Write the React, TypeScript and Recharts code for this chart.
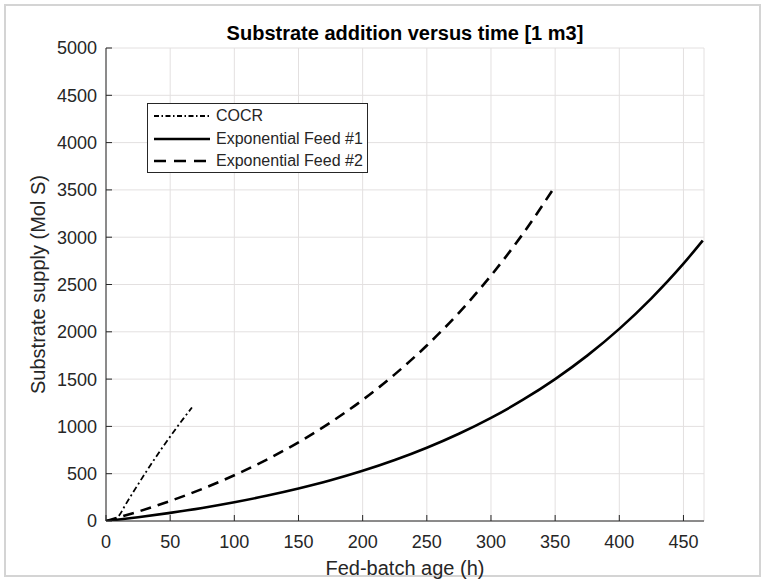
import React from 'react';
import { LineChart, Line, XAxis, YAxis, CartesianGrid, Legend } from 'recharts';

const chartTitle = 'Substrate addition versus time [1 m3]';
const xLabel = 'Fed-batch age (h)';
const yLabel = 'Substrate supply (Mol S)';

const seriesNames = ['COCR', 'Exponential Feed #1', 'Exponential Feed #2'];

const cocrHours = [0, 5, 9, 10, 15, 20, 25, 30, 35, 40, 45, 50, 55, 60, 67];
const cocrSupply = [0, 18, 40, 54, 168, 279, 387, 493, 597, 698, 797, 892, 986, 1077, 1200];

const feed1Hours = [0, 25, 50, 75, 100, 125, 150, 175, 200, 225, 250, 275, 300, 325, 350, 375, 400, 425, 450, 465];
const feed1Supply = [0, 40, 86, 138, 198, 266, 343, 430, 530, 644, 774, 922, 1090, 1282, 1500, 1748, 2031, 2354, 2720, 2965];

const feed2Hours = [0, 25, 50, 75, 100, 125, 150, 175, 200, 225, 250, 275, 300, 325, 350];
const feed2Supply = [0, 99, 212, 339, 483, 647, 832, 1042, 1280, 1550, 1855, 2201, 2594, 3038, 3540];

const xTicks = [0, 50, 100, 150, 200, 250, 300, 350, 400, 450];
const yTicks = [0, 500, 1000, 1500, 2000, 2500, 3000, 3500, 4000, 4500, 5000];
const xMax = 466;
const yMax = 5000;

const cocrData = cocrHours.map((t, i) => ({ t, v: cocrSupply[i] }));
const feed1Data = feed1Hours.map((t, i) => ({ t, v: feed1Supply[i] }));
const feed2Data = feed2Hours.map((t, i) => ({ t, v: feed2Supply[i] }));

const FONT = '"Liberation Sans", Arial, Helvetica, sans-serif';
const INK = '#262626';

const dashes = ['6 3 2 3', undefined, '11 7'];
const legendDashes = ['5 2.5 1.5 2.5', undefined, '12 8'];
const widths = [1.8, 2.6, 2.6];

const YTick = (props: any) => {
  const { x, y, payload } = props;
  return (
    <g>
      <text x={x} y={y} dy={6.4} textAnchor="end" fontSize={18} fontFamily={FONT} fill={INK}>
        {payload.value}
      </text>
      <line x1={x + 9} x2={x + 15} y1={y} y2={y} stroke={INK} strokeWidth={1} />
    </g>
  );
};

const XTick = (props: any) => {
  const { x, y, payload } = props;
  return (
    <g>
      <text x={x} y={y} dy={14.5} textAnchor="middle" fontSize={18} fontFamily={FONT} fill={INK}>
        {payload.value}
      </text>
      <line x1={x} x2={x} y1={y - 12} y2={y - 18} stroke={INK} strokeWidth={1} />
    </g>
  );
};

const LegendBox = () => (
  <div
    style={{
      width: 219,
      height: 67,
      border: `1px solid ${INK}`,
      background: '#fff',
      fontFamily: FONT,
      fontSize: 16,
      color: INK,
      paddingTop: 1,
      boxSizing: 'content-box',
    }}
  >
    {seriesNames.map((name, i) => (
      <div key={name} style={{ display: 'flex', alignItems: 'center', height: 22.5 }}>
        <svg width={64} height={10} style={{ marginLeft: 4, marginRight: 0 }}>
          <line x1={2} x2={58} y1={5} y2={5} stroke="#000" strokeWidth={widths[i]} strokeDasharray={legendDashes[i]} />
        </svg>
        <span style={{ whiteSpace: 'nowrap', lineHeight: '16px' }}>{name}</span>
      </div>
    ))}
  </div>
);

export default function App() {
  return (
    <div style={{ position: 'absolute', left: 0, top: 0, width: 767, height: 583, background: '#fff' }}>
      <div
        style={{
          position: 'absolute',
          left: 4,
          top: 4,
          width: 757,
          height: 573,
          border: '2px solid #d4d4d4',
          boxSizing: 'border-box',
        }}
      />
      <div
        style={{
          position: 'absolute',
          left: 106,
          width: 598,
          top: 21,
          textAlign: 'center',
          fontFamily: FONT,
          fontWeight: 'bold',
          fontSize: 20,
          color: '#000',
          lineHeight: '24px',
          whiteSpace: 'nowrap',
        }}
      >
        {chartTitle}
      </div>
      <div style={{ position: 'absolute', left: 0, top: 0 }}>
        <LineChart
          width={767}
          height={583}
          margin={{ top: 48, right: 63, bottom: 22, left: 26 }}
        >
          <CartesianGrid stroke="#e3e0e0" strokeWidth={1} />
          <XAxis
            dataKey="t"
            type="number"
            domain={[0, xMax]}
            ticks={xTicks}
            allowDataOverflow
            height={40}
            tickSize={0}
            tickMargin={12}
            tickLine={false}
            tick={<XTick />}
            axisLine={{ stroke: INK, strokeWidth: 1 }}
            interval={0}
            label={{
              content: (p: any) => {
                const vb = p.viewBox;
                return (
                  <text x={vb.x + vb.width / 2} y={vb.y + 54} textAnchor="middle" fontSize={20} fontFamily={FONT} fill={INK}>
                    {xLabel}
                  </text>
                );
              },
            }}
          />
          <YAxis
            type="number"
            domain={[0, yMax]}
            ticks={yTicks}
            allowDataOverflow
            width={80}
            tickSize={0}
            tickMargin={9}
            tickLine={false}
            tick={<YTick />}
            axisLine={{ stroke: INK, strokeWidth: 1 }}
            interval={0}
            label={{
              content: (p: any) => {
                const vb = p.viewBox;
                const cx = vb.x + 19;
                const cy = vb.y + vb.height / 2;
                return (
                  <text x={cx} y={cy} transform={`rotate(-90 ${cx} ${cy})`} textAnchor="middle" fontSize={20} fontFamily={FONT} fill={INK}>
                    {yLabel}
                  </text>
                );
              },
            }}
          />
          <Line
            data={cocrData}
            dataKey="v"
            name={seriesNames[0]}
            type="monotone"
            stroke="#000"
            strokeWidth={widths[0]}
            strokeDasharray={dashes[0]}
            dot={false}
            isAnimationActive={false}
          />
          <Line
            data={feed1Data}
            dataKey="v"
            name={seriesNames[1]}
            type="monotone"
            stroke="#000"
            strokeWidth={widths[1]}
            dot={false}
            isAnimationActive={false}
          />
          <Line
            data={feed2Data}
            dataKey="v"
            name={seriesNames[2]}
            type="monotone"
            stroke="#000"
            strokeWidth={widths[2]}
            strokeDasharray={dashes[2]}
            dot={false}
            isAnimationActive={false}
          />
          <Legend
            layout="vertical"
            align="center"
            verticalAlign="middle"
            content={() => <LegendBox />}
            wrapperStyle={{ left: 147, top: 103, width: 221, height: 69 }}
          />
        </LineChart>
      </div>
    </div>
  );
}
